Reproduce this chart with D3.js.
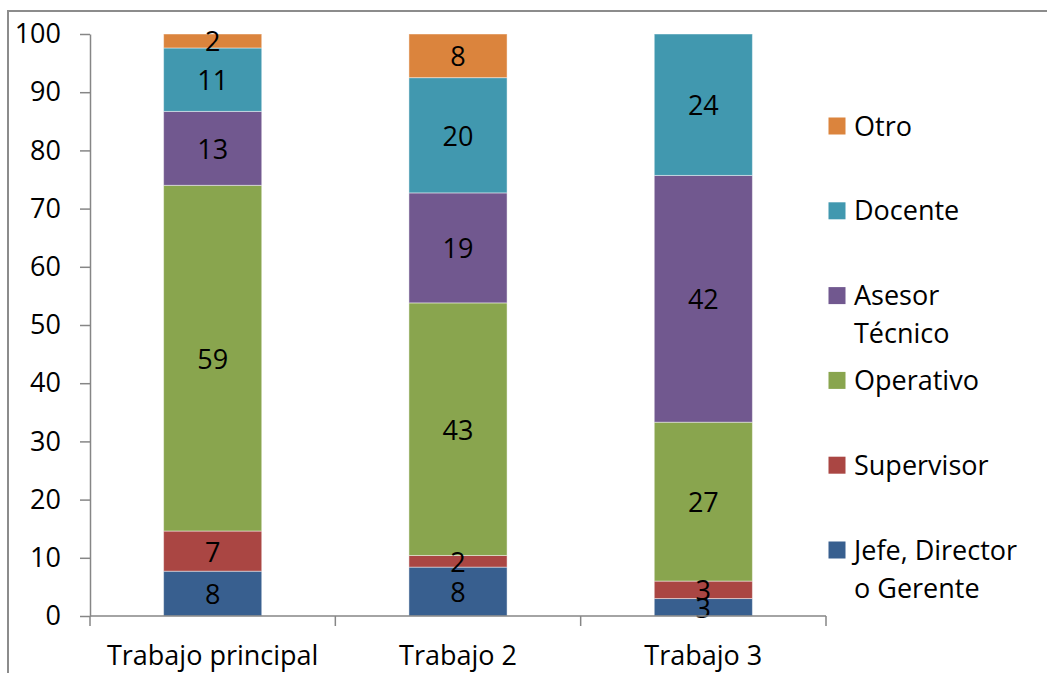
<!DOCTYPE html>
<html>
<head>
<meta charset="utf-8">
<script src="https://cdn.jsdelivr.net/npm/d3@7"></script>
<style>
  html, body { margin: 0; padding: 0; background: #fff; }
  svg text { font-family: "Open Sans", "Liberation Sans", sans-serif; fill: #000; }
</style>
</head>
<body>
<svg id="chart" width="1047" height="673"></svg>
<script>
// ---- data ----
const categories = ["Trabajo principal", "Trabajo 2", "Trabajo 3"];
const seriesNames = ["Jefe, Director o Gerente", "Supervisor", "Operativo", "Asesor Técnico", "Docente", "Otro"];
const legendLabels = [["Jefe, Director", "o Gerente"], ["Supervisor"], ["Operativo"], ["Asesor", "Técnico"], ["Docente"], ["Otro"]];
const jefe       = [7.7, 8.4, 3.0];
const supervisor = [6.9, 2.0, 3.0];
const operativo  = [59.4, 43.4, 27.3];
const asesor     = [12.7, 18.9, 42.4];
const docente    = [10.9, 19.8, 24.3];
const otro       = [2.4, 7.5, 0];
const yTicks = [0, 10, 20, 30, 40, 50, 60, 70, 80, 90, 100];
const colors = ["#385F8F", "#AA4643", "#89A54E", "#71588F", "#4198AF", "#DB843D"];

const seriesValues = [jefe, supervisor, operativo, asesor, docente, otro];
const rows = categories.map((c, i) => {
  const r = { cat: c };
  seriesNames.forEach((s, k) => r[s] = seriesValues[k][i]);
  return r;
});

const svg = d3.select("#chart");
const fontSize = 27;
const axisColor = "#868686";

// outer border
svg.append("rect").attr("x", 8).attr("y", 11).attr("width", 1100).attr("height", 800)
  .attr("fill", "none").attr("stroke", "#8c8c8c").attr("stroke-width", 2);

const x = d3.scaleBand().domain(categories).range([90, 826]).paddingInner(0.6).paddingOuter(0.3);
const y = d3.scaleLinear().domain([0, 100]).range([616, 34]);

const stack = d3.stack().keys(seriesNames);
const stacked = stack(rows);

const g = svg.append("g");
const layers = g.selectAll("g.layer").data(stacked).join("g")
  .attr("class", "layer").attr("fill", (d, i) => colors[i]);

layers.selectAll("rect").data(d => d).join("rect")
  .attr("x", d => x(d.data.cat))
  .attr("width", x.bandwidth())
  .attr("y", d => y(d[1]))
  .attr("height", d => y(d[0]) - y(d[1]))
  .attr("stroke", "rgba(255,255,255,0.45)")
  .attr("stroke-width", 1);

// data labels
stacked.forEach((layer, k) => {
  g.selectAll(null).data(layer.filter(d => d[1] - d[0] > 0)).join("text")
    .attr("x", d => x(d.data.cat) + x.bandwidth() / 2)
    .attr("y", d => (y(d[0]) + y(d[1])) / 2)
    .attr("text-anchor", "middle")
    .attr("dominant-baseline", "central")
    .attr("font-size", fontSize)
    .text(d => Math.round(d[1] - d[0]));
});

// y axis
const yAxis = d3.axisLeft(y).tickValues(yTicks).tickSize(10).tickSizeOuter(0).tickPadding(19);
const yg = svg.append("g").attr("transform", "translate(90,0)").call(yAxis);
yg.select(".domain").attr("stroke", axisColor).attr("stroke-width", 1.5);
yg.selectAll(".tick line").attr("stroke", axisColor).attr("stroke-width", 1.5);
yg.selectAll(".tick text").attr("font-size", fontSize).attr("font-family", "Open Sans").attr("fill", "#000");

// x axis
const xg = svg.append("g").attr("transform", "translate(0,616)");
xg.append("line").attr("x1", 90).attr("x2", 826).attr("y1", 0).attr("y2", 0)
  .attr("stroke", axisColor).attr("stroke-width", 1.5);
const tickXs = [90].concat(categories.map((c, i) => 90 + x.step() * (i + 1)));
xg.selectAll("line.tk").data(tickXs).join("line").attr("class", "tk")
  .attr("x1", d => d).attr("x2", d => d).attr("y1", 0).attr("y2", 10)
  .attr("stroke", axisColor).attr("stroke-width", 1.5);
xg.selectAll("text").data(categories).join("text")
  .attr("x", d => x(d) + x.bandwidth() / 2)
  .attr("y", 49)
  .attr("text-anchor", "middle")
  .attr("font-size", fontSize)
  .text(d => d);

// legend (reverse order)
const legend = svg.append("g");
const legendOrder = d3.range(seriesNames.length).reverse();
legendOrder.forEach((k, j) => {
  const top = 117.5 + j * 84.8;
  legend.append("rect").attr("x", 828.5).attr("y", top).attr("width", 17).attr("height", 17).attr("fill", colors[k]);
  const t = legend.append("text").attr("x", 854).attr("y", top + 18).attr("font-size", fontSize);
  legendLabels[k].forEach((line, li) => {
    t.append("tspan").attr("x", 854).attr("dy", li === 0 ? 0 : 38).text(line);
  });
});
</script>
</body>
</html>
